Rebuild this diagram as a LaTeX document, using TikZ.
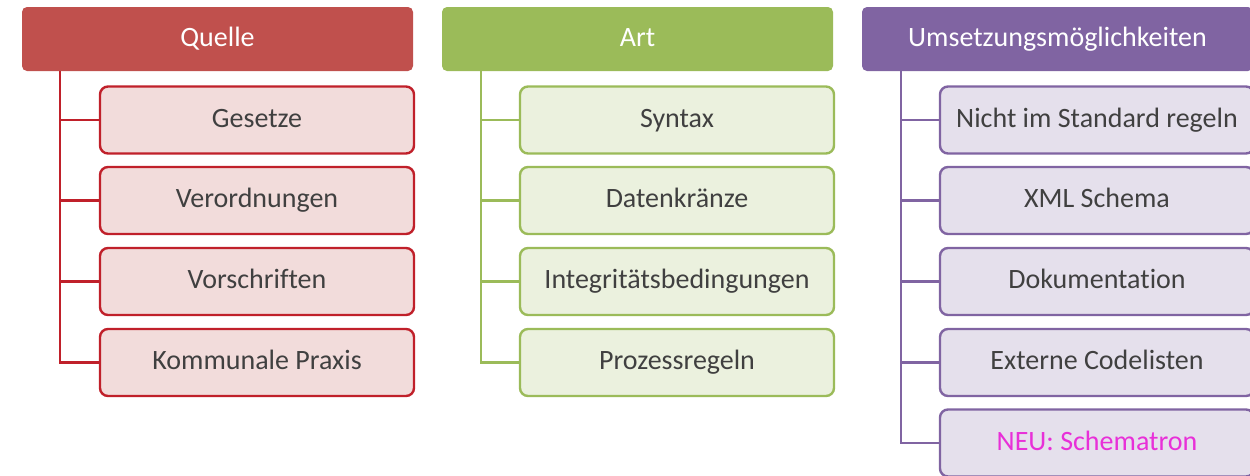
\documentclass[tikz,border=0pt]{standalone}
\usepackage{fontspec}
\setmainfont{Carlito}[Ligatures=NoCommon]
\definecolor{redhead}{HTML}{C0504D}
\definecolor{redline}{HTML}{C0202A}
\definecolor{redfill}{HTML}{F2DCDB}
\definecolor{greenhead}{HTML}{9BBB59}
\definecolor{greenfill}{HTML}{EBF1DE}
\definecolor{purplehead}{HTML}{8064A2}
\definecolor{purplefill}{HTML}{E5E0EC}
\definecolor{textgray}{HTML}{404040}
\definecolor{neupink}{HTML}{E830D8}
\begin{document}
\begin{tikzpicture}[x=1pt,y=-1pt,
  headbox/.style={rectangle, rounded corners=5pt, minimum width=391pt, minimum height=64pt,
    text=white, font=\fontsize{28}{32}\selectfont, inner sep=0pt,
    text height=19pt, text depth=5pt},
  itembox/.style={rectangle, rounded corners=8pt, line width=2.4pt, minimum width=314pt,
    minimum height=67pt, text=textgray, font=\fontsize{28}{32}\selectfont, inner sep=0pt,
    text height=19pt, text depth=5pt},
  tree/.style={line width=2.4pt}
]
\useasboundingbox (0,0) rectangle (1250,475);

% Quelle
\node[headbox, fill=redhead] (hq) at (217.5,39) {Quelle};
\node[itembox, draw=redline, fill=redfill] (q1) at (257,120) {Gesetze};
\node[itembox, draw=redline, fill=redfill] (q2) at (257,200.5) {Verordnungen};
\node[itembox, draw=redline, fill=redfill] (q3) at (257,281.5) {Vorschriften};
\node[itembox, draw=redline, fill=redfill] (q4) at (257,362.5) {Kommunale Praxis};
\coordinate (tq) at ([xshift=38pt]hq.south west);
\draw[tree, draw=redline] (tq) |- (q4.west);
\foreach \n in {q1,q2,q3} \draw[tree, draw=redline] (tq |- \n.west) -- (\n.west);

% Art
\node[headbox, fill=greenhead] (ha) at (637.5,39) {Art};
\node[itembox, draw=greenhead, fill=greenfill] (a1) at (677,120) {Syntax};
\node[itembox, draw=greenhead, fill=greenfill] (a2) at (677,200.5) {Datenkränze};
\node[itembox, draw=greenhead, fill=greenfill] (a3) at (677,281.5) {Integritätsbedingungen};
\node[itembox, draw=greenhead, fill=greenfill] (a4) at (677,362.5) {Prozessregeln};
\coordinate (ta) at ([xshift=39pt]ha.south west);
\draw[tree, draw=greenhead] (ta) |- (a4.west);
\foreach \n in {a1,a2,a3} \draw[tree, draw=greenhead] (ta |- \n.west) -- (\n.west);

% Umsetzungsmöglichkeiten
\node[headbox, fill=purplehead] (hu) at (1057.5,39) {Umsetzungsmöglichkeiten};
\node[itembox, draw=purplehead, fill=purplefill] (u1) at (1097,120) {Nicht im Standard regeln};
\node[itembox, draw=purplehead, fill=purplefill] (u2) at (1097,200.5) {XML Schema};
\node[itembox, draw=purplehead, fill=purplefill] (u3) at (1097,281.5) {Dokumentation};
\node[itembox, draw=purplehead, fill=purplefill] (u4) at (1097,362.5) {Externe Codelisten};
\node[itembox, draw=purplehead, fill=purplefill, text=neupink] (u5) at (1097,443) {NEU: Schematron};
\coordinate (tu) at ([xshift=39pt]hu.south west);
\draw[tree, draw=purplehead] (tu) |- (u5.west);
\foreach \n in {u1,u2,u3,u4} \draw[tree, draw=purplehead] (tu |- \n.west) -- (\n.west);
\end{tikzpicture}
\end{document}
